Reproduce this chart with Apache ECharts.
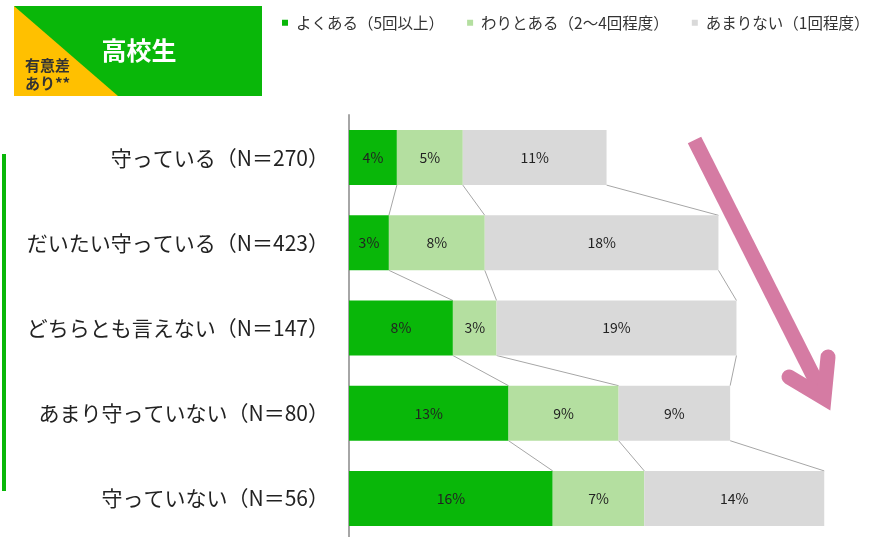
<!DOCTYPE html>
<html><head><meta charset="utf-8">
<script src="https://cdn.jsdelivr.net/npm/echarts@6/dist/echarts.min.js"></script>
<style>html,body{margin:0;padding:0;background:#fff;overflow:hidden}#c{width:900px;height:560px}</style>
</head><body><div id="c"></div>
<script>
const categories = ['守っている（N＝270）','だいたい守っている（N＝423）','どちらとも言えない（N＝147）','あまり守っていない（N＝80）','守っていない（N＝56）'];
const seriesNames = ['よくある（5回以上）','わりとある（2～4回程度）','あまりない（1回程度）'];
const often = [3.77, 3.14, 8.18, 12.56, 16.04];
const sometimes = [5.19, 7.55, 3.44, 8.67, 7.21];
const rarely = [11.32, 18.40, 18.89, 8.78, 14.17];

const colors = ['#09B709','#B4DFA0','#D9D9D9'];
const FONT = '"Noto Sans CJK JP","Noto Sans",sans-serif';
const BAR_W = 55;

const vals = [often, sometimes, rarely];
// connectors: cumulative boundaries between consecutive rows
const conn = [];
for (let i = 0; i < categories.length - 1; i++) {
  let c1 = 0, c2 = 0;
  for (let k = 0; k < vals.length; k++) {
    c1 += vals[k][i]; c2 += vals[k][i + 1];
    conn.push([c1, i, c2, i + 1]);
  }
}

const chart = echarts.init(document.getElementById('c'));
chart.setOption({
  animation: false,
  textStyle: { fontFamily: FONT },
  legend: {
    left: 277, top: 10, width: 615, icon: 'rect', itemWidth: 6, itemHeight: 6, itemGap: 23,
    data: seriesNames,
    textStyle: { fontSize: 15.5, color: '#333', fontFamily: FONT, padding: [0, 0, 0, 3] }
  },
  grid: { left: 349, top: 115, width: 508, height: 426 },
  xAxis: { type: 'value', min: 0, max: 40, show: false },
  yAxis: {
    type: 'category', data: categories, inverse: true,
    axisTick: { show: false },
    axisLine: { lineStyle: { color: '#A6A6A6', width: 2 } },
    axisLabel: { fontSize: 21, color: '#222', margin: 20, fontFamily: FONT, padding: [6, 0, 0, 0] }
  },
  series: [
    ...vals.map((v, k) => ({
      name: seriesNames[k], type: 'bar', stack: 'a', data: v, barWidth: BAR_W,
      itemStyle: { color: colors[k] },
      label: { show: true, position: 'inside', fontSize: 14, color: '#222', fontFamily: FONT,
               formatter: p => Math.round(p.value) + '%' }
    })),
    {
      type: 'custom', data: conn, encode: { x: [0, 2], y: [1, 3] }, silent: true, z: 1,
      renderItem: (params, api) => {
        const p1 = api.coord([api.value(0), api.value(1)]);
        const p2 = api.coord([api.value(2), api.value(3)]);
        return { type: 'line', shape: { x1: p1[0], y1: p1[1] + BAR_W / 2, x2: p2[0], y2: p2[1] - BAR_W / 2 },
                 style: { stroke: '#A6A6A6', lineWidth: 1 } };
      }
    }
  ],
  graphic: [
    { type: 'rect', shape: { x: 14, y: 6, width: 248, height: 90 }, style: { fill: '#09B709' } },
    { type: 'polygon', shape: { points: [[14, 6], [14, 96], [118, 96]] }, style: { fill: '#FFC000' } },
    { type: 'text', x: 139, y: 50, style: { text: '高校生', fill: '#fff', font: 'bold 25px ' + FONT, align: 'center', verticalAlign: 'middle' } },
    { type: 'text', x: 25, y: 65, style: { text: '有意差', fill: '#333', font: 'bold 15px ' + FONT, align: 'left', verticalAlign: 'middle' } },
    { type: 'text', x: 25, y: 83, style: { text: 'あり**', fill: '#333', font: 'bold 15px ' + FONT, align: 'left', verticalAlign: 'middle' } },
    { type: 'rect', shape: { x: 2, y: 154, width: 4, height: 337 }, style: { fill: '#09B709' } },
    { type: 'polyline', shape: { points: [[694.5, 140], [824, 397]] }, style: { stroke: '#D57BA3', lineWidth: 15, lineCap: 'butt' } },
    { type: 'polyline', shape: { points: [[789, 377], [824, 398], [828, 357]] }, style: { stroke: '#D57BA3', lineWidth: 15, lineCap: 'round', lineJoin: 'miter', fill: null } }
  ]
});
</script></body></html>
